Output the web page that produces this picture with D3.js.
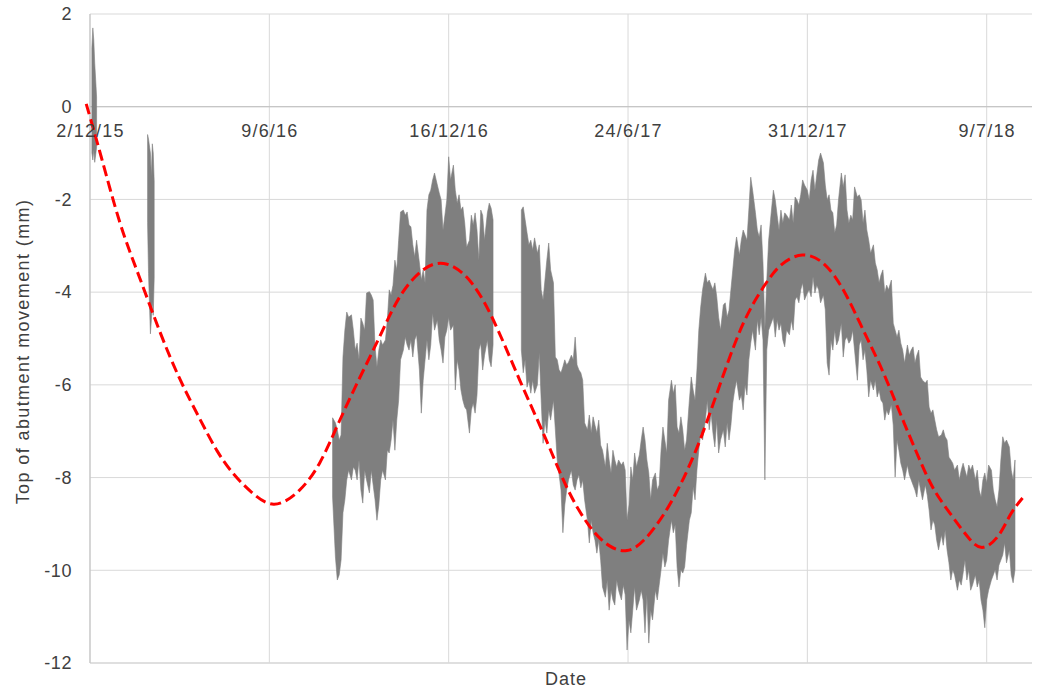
<!DOCTYPE html>
<html>
<head>
<meta charset="utf-8">
<script src="https://cdnjs.cloudflare.com/ajax/libs/d3/7.8.5/d3.min.js"></script>
<style>
    body { margin: 0; background: #ffffff; }
    text { font-family: "Liberation Sans", Arial, sans-serif; }
</style>
</head>
<body>
<div id="graph1"></div>
<script>
// axis ticks
const startDate = "2015-12-02";
const axisDays = 998;
const tickDates = ["2015-12-02", "2016-06-09", "2016-12-16", "2017-06-24", "2017-12-31", "2018-07-09"];
const yTicks = [-12, -10, -8, -6, -4, -2, 0, 2];

// measured movement, envelope of the readings (days since 2/12/15, mm)
const burstDays = [2, 3, 4, 5, 6, 7];
const burstHigh = [1.27, 1.70, 1.44, 0.94, 0.58, 0.21];
const burstLow = [-1.00, -1.15, -0.93, -1.20, -1.04, -0.87];

const febDays = [61, 62, 64, 65, 66, 67, 68];
const febHigh = [-0.6, -0.7, -1.0, -1.5, -0.8, -1.0, -1.6];
const febLow = [-2.5, -3.6, -4.9, -4.6, -4.2, -4.5, -3.7];

const run1Days = [257, 260, 262, 264, 266, 268, 270, 272, 274, 277,
    279, 281, 283, 285, 287, 289, 291, 293, 296, 298,
    300, 302, 304, 306, 308, 310, 313, 315, 317, 319,
    321, 323, 325, 327, 329, 332, 334, 336, 338, 340,
    342, 344, 346, 349, 351, 353, 355, 357, 359, 361,
    363, 365, 368, 370, 372, 374, 376, 378, 380, 382,
    385, 387, 389, 391, 393, 395, 397, 399, 402, 404,
    406, 408, 410, 412, 414, 416, 418, 421, 423, 425, 427];
const run1High = [-6.71, -6.82, -6.97, -7.19, -7.08, -5.40, -4.82, -4.43, -4.54, -4.49,
    -4.82, -5.25, -5.10, -5.46, -4.56, -4.67, -4.82, -4.02, -3.99, -4.06,
    -4.17, -5.18, -5.61, -5.25, -5.03, -5.14, -5.03, -4.60, -3.95, -4.06,
    -3.85, -3.31, -3.52, -2.88, -2.27, -2.23, -2.34, -2.27, -2.55, -2.59,
    -2.98, -3.24, -2.88, -3.37, -3.74, -3.52, -3.80, -2.23, -1.90, -1.80,
    -1.58, -1.43, -1.69, -1.86, -2.01, -2.66, -2.34, -2.01, -1.08, -1.58,
    -1.26, -1.80, -2.08, -1.90, -2.23, -2.16, -2.51, -3.03, -2.88, -2.34,
    -2.55, -2.29, -2.66, -3.31, -2.23, -2.34, -2.88, -2.29, -2.08, -2.19, -2.44];
const run1Low = [-8.42, -9.71, -10.21, -10.10, -9.78, -8.76, -8.48, -8.05, -7.84, -8.05,
    -7.77, -7.84, -8.05, -7.62, -8.27, -8.55, -7.84, -8.05, -8.33, -7.84,
    -8.16, -8.48, -8.92, -8.59, -8.05, -7.84, -8.05, -7.41, -7.47, -7.19,
    -6.76, -7.41, -6.76, -6.33, -5.46, -5.25, -4.97, -5.14, -5.25, -5.03,
    -5.40, -5.03, -4.92, -5.68, -6.61, -5.90, -5.46, -5.03, -5.46, -5.14,
    -4.45, -4.82, -4.60, -5.03, -5.25, -5.53, -4.97, -4.82, -4.54, -4.82,
    -4.71, -6.11, -5.46, -5.68, -6.11, -6.33, -6.48, -6.54, -7.04, -6.54,
    -6.39, -6.61, -6.22, -5.25, -5.10, -5.68, -5.36, -5.03, -5.46, -5.61, -5.14];

const run2Days = [457, 459, 461, 463, 465, 467, 469, 471, 474, 476,
    478, 480, 482, 484, 486, 488, 491, 493, 495, 497,
    499, 501, 503, 505, 507, 510, 512, 514, 516, 518,
    520, 522, 524, 527, 529, 531, 533, 535, 537, 539,
    541, 543, 546, 548, 550, 552, 554, 556, 558, 560,
    563, 565, 567, 569, 571, 573, 575, 577, 579, 582,
    584, 586, 588, 590, 592, 594, 596, 599, 601, 603,
    605, 607, 609, 611, 613, 616, 618, 620, 622, 624,
    626, 628, 630, 632, 635, 637, 639, 641, 643, 645,
    647, 649, 652, 654, 656, 658, 660, 662, 664, 666,
    668, 671, 673, 675, 677, 679, 681, 683, 685, 688,
    690, 692, 694, 696, 698, 700, 702, 705, 707, 709,
    711, 713, 715, 717, 719, 721, 724, 726, 728, 730,
    732, 734, 736, 738, 741, 743, 745, 747, 749, 751,
    753, 755, 757, 760, 762, 764, 766, 768, 770, 772,
    774, 777, 779, 781, 783, 785, 787, 789, 791, 793,
    796, 798, 800, 802, 804, 806, 808, 810, 813, 815,
    817, 819, 821, 823, 825, 827, 830, 832, 834, 836,
    838, 840, 842, 844, 846, 849, 851, 853, 855, 857,
    859, 861, 863, 866, 868, 870, 872, 874, 876, 878,
    880, 882, 885, 887, 889, 891, 893, 895, 897, 899,
    902, 904, 906, 908, 910, 912, 914, 916, 919, 921,
    923, 925, 927, 929, 931, 933, 935, 938, 940, 942,
    944, 946, 948, 950, 952, 955, 957, 959, 961, 963,
    965, 967, 969, 971, 974, 976, 978, 980];
const run2High = [-2.23, -2.16, -2.44, -2.72, -2.98, -2.88, -3.09, -2.83, -3.16, -2.98,
    -3.95, -4.17, -3.74, -3.31, -2.94, -3.52, -3.80, -5.40, -5.46, -5.68,
    -5.74, -5.61, -5.46, -5.57, -5.51, -5.36, -5.46, -4.97, -5.57, -5.68,
    -5.74, -5.90, -6.82, -6.97, -6.65, -7.04, -6.69, -6.87, -7.04, -6.76,
    -7.30, -7.41, -7.77, -7.26, -7.62, -7.90, -7.41, -7.62, -7.77, -7.62,
    -7.73, -7.66, -7.84, -8.92, -8.59, -7.77, -8.05, -7.47, -7.77, -7.51,
    -7.19, -6.91, -7.19, -7.62, -7.90, -8.48, -8.05, -7.90, -8.27, -8.16,
    -7.41, -6.91, -7.19, -7.47, -6.33, -5.90, -6.18, -6.00, -6.91, -7.04,
    -6.69, -6.97, -7.41, -7.19, -6.33, -5.83, -6.11, -6.33, -5.68, -4.82,
    -4.32, -3.95, -3.59, -3.80, -3.74, -3.85, -3.95, -3.80, -4.10, -4.54,
    -4.82, -4.28, -4.23, -4.54, -4.39, -3.95, -3.52, -3.09, -2.81, -3.20,
    -2.88, -2.66, -2.77, -2.88, -2.23, -1.52, -1.80, -2.29, -2.66, -2.81,
    -2.55, -3.37, -4.82, -3.74, -2.88, -2.44, -1.80, -2.01, -2.34, -2.66,
    -2.23, -2.51, -2.29, -2.34, -2.44, -2.12, -2.51, -1.95, -2.01, -2.12,
    -1.90, -1.58, -1.69, -1.80, -2.01, -1.58, -1.37, -1.80, -1.47, -1.15,
    -1.00, -1.21, -1.69, -2.01, -1.90, -2.23, -2.29, -2.72, -2.55, -2.01,
    -1.43, -1.73, -1.47, -2.23, -2.51, -2.34, -2.44, -1.73, -1.95, -1.90,
    -2.01, -2.51, -2.23, -2.66, -2.88, -3.16, -2.98, -3.37, -3.52, -3.80,
    -3.63, -3.52, -4.02, -3.85, -3.95, -3.74, -4.67, -4.82, -4.97, -4.82,
    -5.10, -5.25, -5.53, -5.14, -5.36, -5.25, -5.18, -5.53, -5.36, -5.25,
    -5.83, -5.90, -5.96, -5.90, -6.48, -6.61, -6.54, -6.76, -6.97, -7.12,
    -7.08, -6.97, -7.12, -7.19, -7.56, -7.62, -7.69, -7.84, -7.73, -8.05,
    -7.84, -7.69, -7.84, -7.99, -7.73, -7.84, -7.73, -8.05, -7.84, -8.27,
    -8.42, -8.05, -7.90, -8.12, -7.73, -7.84, -8.27, -8.48, -8.63, -8.27,
    -7.62, -7.12, -7.26, -7.19, -7.34, -7.84, -8.05, -7.62];
const run2Low = [-5.25, -5.74, -5.46, -6.05, -5.90, -6.18, -5.90, -6.18, -6.00, -5.31,
    -6.33, -7.26, -6.76, -7.04, -6.54, -6.76, -6.33, -6.97, -7.62, -7.94,
    -8.27, -9.19, -8.59, -8.27, -8.05, -7.84, -8.16, -8.27, -8.05, -7.94,
    -8.22, -8.05, -8.48, -8.92, -9.41, -8.92, -9.19, -9.35, -9.63, -9.35,
    -9.78, -10.36, -10.58, -10.21, -10.86, -10.43, -10.64, -10.75, -10.21, -10.43,
    -10.64, -10.32, -10.53, -11.72, -11.07, -11.35, -10.86, -10.36, -10.86, -10.64,
    -10.43, -10.64, -11.35, -10.53, -11.57, -10.86, -11.07, -10.43, -10.64, -10.32,
    -9.99, -9.63, -9.93, -9.78, -9.35, -8.92, -9.19, -9.02, -9.93, -10.36,
    -9.99, -10.06, -9.93, -9.46, -8.92, -8.76, -8.20, -8.48, -7.84, -7.41,
    -7.04, -7.19, -6.76, -6.33, -6.97, -6.61, -7.04, -7.34, -6.76, -7.47,
    -7.19, -6.97, -7.34, -6.82, -7.19, -6.87, -6.39, -6.11, -5.90, -6.33,
    -6.22, -6.54, -6.00, -6.22, -5.46, -5.10, -4.82, -5.25, -4.60, -4.92,
    -4.54, -5.03, -8.05, -5.25, -4.82, -4.71, -4.54, -4.97, -4.60, -4.82,
    -4.67, -5.03, -5.18, -4.82, -4.92, -4.60, -4.82, -4.17, -4.10, -4.23,
    -3.95, -3.80, -4.17, -4.02, -3.95, -4.10, -3.67, -4.02, -3.85, -3.95,
    -4.23, -4.06, -4.38, -5.53, -5.79, -5.03, -5.25, -4.82, -5.14, -5.03,
    -4.67, -5.40, -5.03, -4.97, -5.10, -5.03, -4.82, -5.25, -5.90, -5.14,
    -5.03, -5.46, -5.25, -5.68, -6.26, -5.90, -6.11, -5.90, -6.26, -6.11,
    -6.33, -6.39, -6.76, -6.54, -6.65, -6.43, -6.87, -7.99, -7.19, -7.41,
    -7.69, -7.84, -8.05, -7.73, -7.94, -8.05, -8.16, -8.27, -8.42, -8.05,
    -8.27, -8.48, -8.16, -8.38, -8.70, -9.13, -8.92, -9.02, -9.35, -9.56,
    -9.24, -9.46, -9.13, -9.56, -9.84, -10.21, -9.99, -10.10, -10.43, -10.21,
    -10.32, -10.06, -9.78, -10.21, -9.99, -10.43, -10.32, -10.10, -10.36, -10.21,
    -10.64, -10.86, -11.24, -10.64, -10.43, -10.21, -10.10, -9.99, -10.21, -9.89,
    -9.78, -9.67, -9.41, -9.84, -9.56, -10.10, -10.27, -9.99];

// fitted seasonal curve (red dashed)
const fitDays = [-4, 11, 32, 51, 74, 95, 117, 135, 152, 170,
    194, 222, 244, 263, 286, 307, 328, 353, 374, 399,
    424, 456, 484, 505, 530, 551, 569, 586, 607, 625,
    646, 670, 692, 713, 731, 755, 777, 798, 819, 840,
    858, 879, 893, 914, 932, 945, 964, 975, 988];
const fitValues = [0.06, -1.00, -2.60, -3.59, -4.88, -5.90, -6.76, -7.47, -7.94, -8.31,
    -8.70, -8.33, -7.73, -6.82, -5.83, -4.97, -4.02, -3.46, -3.31, -3.59,
    -4.38, -5.96, -7.19, -8.27, -9.13, -9.52, -9.63, -9.41, -8.85, -8.20,
    -7.26, -5.83, -4.60, -3.89, -3.37, -3.13, -3.31, -3.89, -4.82, -5.68,
    -6.61, -7.62, -8.27, -8.85, -9.35, -9.60, -9.28, -8.76, -8.44];

(function () {
    // location and window setup
    let width = 1049,
        height = 688;
    let margin = {top: 14, right: 17, bottom: 25, left: 90};
    let plotW = width - margin.left - margin.right,
        plotH = height - margin.top - margin.bottom;

    let svg = d3.select("#graph1")
        .append("svg")
        .attr("width", width)
        .attr("height", height)
        .append("g")
        .attr("transform", `translate(${margin.left}, ${margin.top})`);

    let start = d3.utcParse("%Y-%m-%d")(startDate);
    let toDate = d => new Date(start.getTime() + d * 864e5);

    // x time scale
    let x = d3.scaleUtc()
        .domain([start, d3.utcDay.offset(start, axisDays)])
        .range([0, plotW]);

    // y linear scale
    let y = d3.scaleLinear()
        .domain([-12, 2])
        .range([plotH, 0]);

    let ticks = tickDates.map(d3.utcParse("%Y-%m-%d"));

    // gridlines
    svg.append("g")
        .selectAll("line")
        .data(yTicks)
        .enter()
        .append("line")
        .attr("x1", 0)
        .attr("x2", plotW)
        .attr("y1", d => y(d))
        .attr("y2", d => y(d))
        .attr("stroke", d => d === -12 ? "#bfbfbf" : "#d9d9d9")
        .attr("stroke-width", 1);

    svg.append("g")
        .selectAll("line")
        .data(ticks)
        .enter()
        .append("line")
        .attr("x1", d => x(d))
        .attr("x2", d => x(d))
        .attr("y1", 0)
        .attr("y2", plotH)
        .attr("stroke", "#d9d9d9")
        .attr("stroke-width", 1);

    // left axis line and zero line
    svg.append("line")
        .attr("x1", 0).attr("x2", 0)
        .attr("y1", 0).attr("y2", plotH)
        .attr("stroke", "#bfbfbf");
    svg.append("line")
        .attr("x1", 0).attr("x2", plotW)
        .attr("y1", y(0)).attr("y2", y(0))
        .attr("stroke", "#bfbfbf");

    // measured readings as a min / max envelope
    let segments = [
        [burstDays, burstHigh, burstLow],
        [febDays, febHigh, febLow],
        [run1Days, run1High, run1Low],
        [run2Days, run2High, run2Low]
    ];

    let area = d3.area()
        .x(d => x(toDate(d.day)))
        .y0(d => y(d.low))
        .y1(d => y(d.high));

    svg.append("g")
        .selectAll("path")
        .data(segments.map(s => s[0].map((day, i) => ({day: day, high: s[1][i], low: s[2][i]}))))
        .enter()
        .append("path")
        .attr("d", area)
        .attr("fill", "#7f7f7f")
        .attr("stroke", "#7f7f7f")
        .attr("stroke-width", 0.6);

    // fitted curve
    let fit = fitDays.map((day, i) => ({day: day, value: fitValues[i]}));
    svg.append("path")
        .datum(fit)
        .attr("d", d3.line()
            .x(d => x(toDate(d.day)))
            .y(d => y(d.value))
            .curve(d3.curveBasis))
        .attr("fill", "none")
        .attr("stroke", "#ff0000")
        .attr("stroke-width", 3)
        .attr("stroke-dasharray", "11,5");

    // y axis labels (plain hyphen minus, like the original)
    let yAxis = svg.append("g")
        .call(d3.axisLeft(y).tickValues(yTicks)
            .tickFormat(d => String(d))
            .tickSize(0).tickPadding(18));
    yAxis.select(".domain").remove();
    yAxis.selectAll("text")
        .style("font-size", "18px")
        .style("font-family", "'Liberation Sans', Arial, sans-serif")
        .style("letter-spacing", "0.6px")
        .attr("fill", "#404040");

    // x axis labels sit under the zero line
    let xAxis = svg.append("g")
        .attr("transform", `translate(0, ${y(0)})`)
        .call(d3.axisBottom(x).tickValues(ticks)
            .tickFormat(d3.utcFormat("%-d/%-m/%y"))
            .tickSize(0).tickPadding(18));
    xAxis.select(".domain").remove();
    xAxis.selectAll("text")
        .style("font-size", "18px")
        .style("font-family", "'Liberation Sans', Arial, sans-serif")
        .style("letter-spacing", "1.2px")
        .attr("fill", "#404040");

    // axis titles
    svg.append("text")
        .attr("transform", `translate(${-61}, ${plotH / 2 + 13}) rotate(-90)`)
        .style("text-anchor", "middle")
        .style("font-size", "18px")
        .style("letter-spacing", "1.4px")
        .attr("fill", "#404040")
        .text("Top of abutment movement (mm)");

    svg.append("text")
        .attr("x", 476)
        .attr("y", plotH + 22)
        .style("text-anchor", "middle")
        .style("font-size", "18px")
        .style("letter-spacing", "1px")
        .attr("fill", "#404040")
        .text("Date");
})();
</script>
</body>
</html>
